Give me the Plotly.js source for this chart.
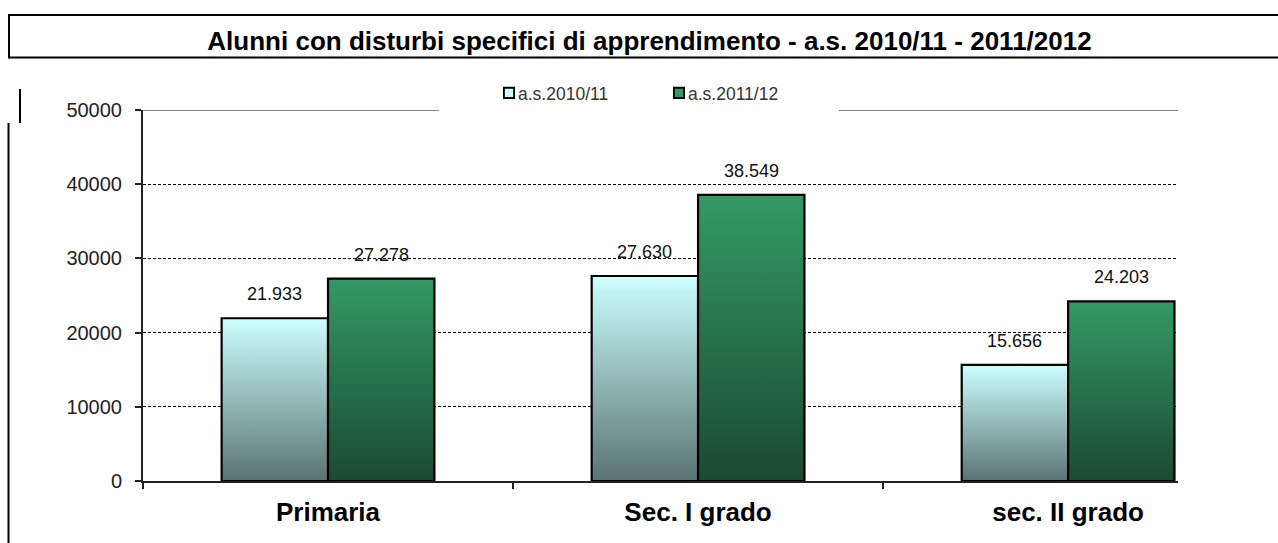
<!DOCTYPE html>
<html>
<head>
<meta charset="utf-8">
<script src="https://cdn.plot.ly/plotly-3.0.1.min.js"></script>
<style>
  html, body { margin: 0; padding: 0; background: #fff; }
  #chart { width: 1278px; height: 543px; }
</style>
</head>
<body>
<div id="chart"></div>
<script>
// ---- data ----
const categories = ['Primaria', 'Sec. I grado', 'sec. II grado'];
const seriesNames = ['a.s.2010/11', 'a.s.2011/12'];
const values2010 = [21933, 27630, 15656];
const values2011 = [27278, 38549, 24203];
const yTickVals = [0, 10000, 20000, 30000, 40000, 50000];
const chartTitle = 'Alunni con disturbi specifici di apprendimento - a.s. 2010/11 - 2011/2012';

// ---- styling ----
const FONT = 'Arial, "Liberation Sans", sans-serif';
const BARGAP = 0.425;
const gradients = [
  ['#ccffff', '#5a7373'],
  ['#339966', '#1b4a30']
];
const W = 1278, H = 543;
const M = { l: 143, r: 100, t: 110, b: 62 };
const PL = M.l, PR = W - M.r, PT = M.t, PB = H - M.b;
const px2x = px => (px - PL) / (PR - PL);
const py2y = py => (PB - py) / (PB - PT);

function fmtIt(v) {
  return String(v).replace(/\B(?=(\d{3})+(?!\d))/g, '.');
}

const seriesValues = [values2010, values2011];
const traces = seriesValues.map((vals, i) => ({
  type: 'bar',
  name: seriesNames[i],
  x: categories,
  y: vals,
  marker: { color: gradients[i][0], line: { color: '#000', width: 2.2 } },
  hoverinfo: 'x+y+name'
}));

// value labels above bars
const groupW = 1 - BARGAP;
const annotations = [];
seriesValues.forEach((vals, s) => {
  vals.forEach((v, i) => {
    annotations.push({
      xref: 'x', yref: 'y',
      x: i + (s === 0 ? -1 : 1) * groupW / 4,
      y: v,
      text: fmtIt(v),
      showarrow: false,
      yanchor: 'middle',
      yshift: 24,
      font: { family: FONT, size: 18, color: '#111' }
    });
  });
});

// decorative frame lines (spreadsheet cell borders) and plot top border
function pline(x0, y0, x1, y1, color, width) {
  return { type: 'line', xref: 'paper', yref: 'paper', layer: 'above',
    x0: px2x(x0), y0: py2y(y0), x1: px2x(x1), y1: py2y(y1),
    line: { color: color, width: width } };
}
const shapes = [
  pline(9, 15, 1290, 15, '#000', 2),
  pline(9, 57.5, 1290, 57.5, '#000', 2),
  pline(9, 14, 9, 58.5, '#000', 2),
  pline(20, 89, 20, 123, '#000', 2),
  pline(8.5, 123, 8.5, 560, '#000', 2),
  // white mask over top gridline, then gray border segments
  { type: 'line', xref: 'paper', yref: 'y', layer: 'above', x0: 0.003, x1: 1, y0: 50000, y1: 50000, line: { color: '#fff', width: 3 } },
  { type: 'line', xref: 'paper', yref: 'y', layer: 'above', x0: 0, x1: px2x(439), y0: 50000, y1: 50000, line: { color: '#888', width: 2 } },
  { type: 'line', xref: 'paper', yref: 'y', layer: 'above', x0: px2x(839), x1: 1, y0: 50000, y1: 50000, line: { color: '#888', width: 2 } }
];

const layout = {
  width: W, height: H,
  margin: M,
  paper_bgcolor: '#fff', plot_bgcolor: '#fff',
  font: { family: FONT, color: '#222' },
  title: {
    text: chartTitle,
    font: { family: FONT, size: 26, weight: 'bold', color: '#000' },
    xref: 'container', yref: 'container',
    x: 649.5 / W, xanchor: 'center',
    y: 1 - 40.5 / H, yanchor: 'middle',
    automargin: false
  },
  barmode: 'group',
  bargap: BARGAP,
  bargroupgap: 0,
  showlegend: true,
  legend: {
    orientation: 'h',
    x: px2x(478), xanchor: 'left',
    y: py2y(93), yanchor: 'middle',
    bgcolor: 'rgba(0,0,0,0)',
    font: { family: FONT, size: 17.5, color: '#333' },
    entrywidth: 125, entrywidthmode: 'pixels',
    itemwidth: 30,
    traceorder: 'normal'
  },
  xaxis: {
    type: 'category',
    range: [-0.5, 2.297],
    tickson: 'boundaries',
    ticks: 'outside', ticklen: 6, tickwidth: 1.5, tickcolor: '#222',
    showline: true, linecolor: '#222', linewidth: 2,
    showgrid: false, zeroline: false,
    tickfont: { family: FONT, size: 26, weight: 'bold', color: '#000' },
    ticklabelstandoff: 7,
    fixedrange: true
  },
  yaxis: {
    range: [0, 50000],
    tickvals: yTickVals,
    tickformat: 'd',
    ticks: 'outside', ticklen: 6, tickwidth: 1.5, tickcolor: '#222',
    showline: true, linecolor: '#222', linewidth: 2,
    showgrid: true, gridcolor: '#000', gridwidth: 1, griddash: '3px,2px',
    zeroline: false,
    tickfont: { family: FONT, size: 20, color: '#222' },
    ticklabelstandoff: 9,
    fixedrange: true
  },
  annotations: annotations,
  shapes: shapes
};

function applyGradients(gd) {
  const svg = gd.querySelector('svg.main-svg');
  if (!svg) return;
  let defs = svg.querySelector('defs');
  if (!defs) {
    defs = document.createElementNS('http://www.w3.org/2000/svg', 'defs');
    svg.insertBefore(defs, svg.firstChild);
  }
  gradients.forEach((g, i) => {
    const id = 'barGrad' + i;
    if (document.getElementById(id)) return;
    const lg = document.createElementNS('http://www.w3.org/2000/svg', 'linearGradient');
    lg.setAttribute('id', id);
    lg.setAttribute('x1', '0'); lg.setAttribute('y1', '0');
    lg.setAttribute('x2', '0'); lg.setAttribute('y2', '1');
    g.forEach((c, k) => {
      const st = document.createElementNS('http://www.w3.org/2000/svg', 'stop');
      st.setAttribute('offset', k / (g.length - 1));
      st.setAttribute('stop-color', c);
      lg.appendChild(st);
    });
    defs.appendChild(lg);
  });
  gd.querySelectorAll('.barlayer .trace').forEach((tr, i) => {
    tr.querySelectorAll('path').forEach(p => { p.style.fill = 'url(#barGrad' + i + ')'; });
  });
  gd.querySelectorAll('.legend .traces').forEach((tr, i) => {
    tr.querySelectorAll('path.legendbar').forEach(p => { p.style.fill = 'url(#barGrad' + i + ')'; });
    const lp = tr.querySelector('g.legendpoints');
    if (lp) lp.setAttribute('transform', 'translate(14,0) scale(0.85)');
  });
}

const gd = document.getElementById('chart');
Plotly.newPlot(gd, traces, layout, { displayModeBar: false, responsive: false }).then(() => {
  applyGradients(gd);
  gd.on('plotly_afterplot', () => applyGradients(gd));
});
</script>
</body>
</html>
